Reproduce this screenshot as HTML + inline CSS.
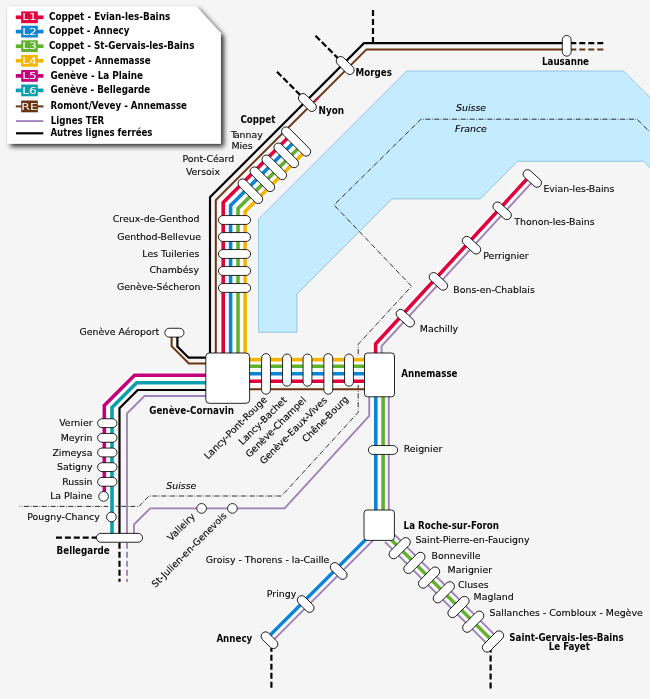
<!DOCTYPE html>
<html lang="fr"><head><meta charset="utf-8"><title>Léman Express</title>
<style>
html,body{margin:0;padding:0;background:#f5f5f5}
body{width:650px;height:699px;overflow:hidden}
svg{display:block}
text{font-family:"DejaVu Sans","Liberation Sans",sans-serif;font-size:9.4px;fill:#000;stroke:#000;stroke-width:0.12px}
.b{font-weight:bold;font-stretch:condensed;font-size:9.7px;fill:#000;stroke:none}
.lb{font-weight:bold;font-stretch:condensed;font-size:9.75px;fill:#000;stroke:none}
.i{font-style:italic;fill:#000}
.k{font-size:8.8px;fill:#fff;stroke:none}
.p{fill:#fff;stroke:#000;stroke-width:0.85}
</style></head><body>
<svg width="650" height="699" viewBox="0 0 650 699">
<defs><filter id="sh" x="-10%" y="-10%" width="125%" height="125%"><feGaussianBlur in="SourceAlpha" stdDeviation="2.4"/><feOffset dx="2.8" dy="2.8" result="o"/><feComponentTransfer><feFuncA type="linear" slope="0.8"/></feComponentTransfer><feMerge><feMergeNode/><feMergeNode in="SourceGraphic"/></feMerge></filter></defs>
<rect width="650" height="699" fill="#f5f5f5"/>
<polygon points="406.6,71 623.6,71 660,107.4 660,177.8 643.5,161.3 517.5,161.3 480.4,198.9 392,198.9 297,294 297,332.2 258.6,332.2 258.6,219" fill="#c5ebfe" stroke="#7fbdd8" stroke-width="0.8"/>
<polyline points="660,142 637,119.2 421,119.2 334,205 411.5,286.2 358.2,344.3 358.2,412.3 281.6,496 149,496 139,506.4 19.6,506.4" fill="none" stroke="#1a1a1a" stroke-width="0.9" stroke-dasharray="5.1,1.5,0.75,1.5" stroke-linejoin="miter" stroke-linecap="butt"/>
<polyline points="290.13,135.53 223.2,202.47 223.2,355" fill="none" stroke="#fff" stroke-width="7.4" stroke-linejoin="miter"/>
<polyline points="249,381.2 366,381.2" fill="none" stroke="#fff" stroke-width="7.4" stroke-linejoin="miter"/>
<polyline points="295.37,140.77 230.6,205.53 230.6,355" fill="none" stroke="#fff" stroke-width="7.4" stroke-linejoin="miter"/>
<polyline points="249,373.8 366,373.8" fill="none" stroke="#fff" stroke-width="7.4" stroke-linejoin="miter"/>
<polyline points="300.6,146 238,208.6 238,355" fill="none" stroke="#fff" stroke-width="7.4" stroke-linejoin="miter"/>
<polyline points="249,366.3 366,366.3" fill="none" stroke="#fff" stroke-width="7.4" stroke-linejoin="miter"/>
<polyline points="305.62,151.02 245.1,211.54 245.1,355" fill="none" stroke="#fff" stroke-width="7.4" stroke-linejoin="miter"/>
<polyline points="249,359.6 366,359.6" fill="none" stroke="#fff" stroke-width="7.4" stroke-linejoin="miter"/>
<polyline points="375.6,355 375.6,344 529.66,176.08" fill="none" stroke="#fff" stroke-width="7.4" stroke-linejoin="miter"/>
<polyline points="375.8,395 375.8,512" fill="none" stroke="#fff" stroke-width="7.4" stroke-linejoin="miter"/>
<polyline points="383.1,395 383.1,512" fill="none" stroke="#fff" stroke-width="7.4" stroke-linejoin="miter"/>
<polyline points="380,525.2 267.25,637.95" fill="none" stroke="#fff" stroke-width="7.4" stroke-linejoin="miter"/>
<polyline points="385,533.5 493,641.5" fill="none" stroke="#fff" stroke-width="7.4" stroke-linejoin="miter"/>
<polyline points="207,375.3 134.5,375.3 104.3,405.5 104.3,496" fill="none" stroke="#fff" stroke-width="7.4" stroke-linejoin="miter"/>
<polyline points="207,382.7 136.7,382.7 112,407.4 112,536" fill="none" stroke="#fff" stroke-width="7.4" stroke-linejoin="miter"/>
<polyline points="206,396 144.5,396 127,413.5 127,534" fill="none" stroke="#9e81b8" stroke-width="1.85" stroke-linejoin="miter" stroke-linecap="butt"/>
<polyline points="127,542.8 127,582" fill="none" stroke="#9e81b8" stroke-width="1.85" stroke-dasharray="6,3" stroke-linejoin="miter" stroke-linecap="butt"/>
<polyline points="369.2,395 369.2,415.8 284.6,508.3 150.2,508.3 134,524.5 134,534" fill="none" stroke="#9e81b8" stroke-width="1.85" stroke-linejoin="miter" stroke-linecap="butt"/>
<polyline points="381.6,355 381.6,346.19 534.01,180.07" fill="none" stroke="#9e81b8" stroke-width="1.85" stroke-linejoin="miter" stroke-linecap="butt"/>
<polyline points="388.8,395 388.8,512" fill="none" stroke="#9e81b8" stroke-width="1.85" stroke-linejoin="miter" stroke-linecap="butt"/>
<polyline points="380,533.4 271.35,642.05" fill="none" stroke="#9e81b8" stroke-width="1.85" stroke-linejoin="miter" stroke-linecap="butt"/>
<polyline points="385,541.84 488.83,645.67" fill="none" stroke="#9e81b8" stroke-width="1.85" stroke-linejoin="miter" stroke-linecap="butt"/>
<polyline points="385,525.16 497.17,637.33" fill="none" stroke="#9e81b8" stroke-width="1.85" stroke-linejoin="miter" stroke-linecap="butt"/>
<polyline points="566.7,43.2 364,43.2 210,197.2 210,355" fill="none" stroke="#000" stroke-width="2.2" stroke-linejoin="miter" stroke-linecap="butt"/>
<polyline points="603.3,43.2 569,43.2" fill="none" stroke="#000" stroke-width="2.2" stroke-dasharray="6,3" stroke-linejoin="miter" stroke-linecap="butt"/>
<polyline points="373,43 373,10" fill="none" stroke="#000" stroke-width="2.2" stroke-dasharray="6,3" stroke-linejoin="miter" stroke-linecap="butt"/>
<polyline points="315.5,35.8 339,59.3" fill="none" stroke="#000" stroke-width="2.2" stroke-dasharray="6.3,2.6" stroke-linejoin="miter" stroke-linecap="butt"/>
<polyline points="277,71.8 301,95.8" fill="none" stroke="#000" stroke-width="2.2" stroke-dasharray="6.3,2.6" stroke-linejoin="miter" stroke-linecap="butt"/>
<polyline points="177.4,334 177.4,346.5 188.6,357.7 207,357.7" fill="none" stroke="#000" stroke-width="2.2" stroke-linejoin="miter" stroke-linecap="butt"/>
<polyline points="206,390 137.7,390 119.5,408.2 119.5,535" fill="none" stroke="#000" stroke-width="2.2" stroke-linejoin="miter" stroke-linecap="butt"/>
<polyline points="119.5,542.8 119.5,581.8" fill="none" stroke="#000" stroke-width="2.2" stroke-dasharray="6,3" stroke-linejoin="miter" stroke-linecap="butt"/>
<polyline points="56,537.6 98,537.6" fill="none" stroke="#000" stroke-width="2.2" stroke-dasharray="6,2.9" stroke-linejoin="miter" stroke-linecap="butt"/>
<polyline points="271.4,687.8 271.4,648" fill="none" stroke="#000" stroke-width="2.2" stroke-dasharray="6,3" stroke-linejoin="miter" stroke-linecap="butt"/>
<polyline points="490.6,688.4 490.6,650" fill="none" stroke="#000" stroke-width="2.2" stroke-dasharray="6,3" stroke-linejoin="miter" stroke-linecap="butt"/>
<polyline points="566.7,49.4 366.5,49.4 215.8,200.1 215.8,355" fill="none" stroke="#6b3410" stroke-width="2" stroke-linejoin="miter" stroke-linecap="butt"/>
<polyline points="603.3,49.4 569,49.4" fill="none" stroke="#6b3410" stroke-width="2" stroke-dasharray="6,3" stroke-linejoin="miter" stroke-linecap="butt"/>
<polyline points="171.6,334 171.6,346.2 188.9,363.5 207,363.5" fill="none" stroke="#6b3410" stroke-width="2" stroke-linejoin="miter" stroke-linecap="butt"/>
<polyline points="249,389.2 366,389.2" fill="none" stroke="#6b3410" stroke-width="2" stroke-linejoin="miter" stroke-linecap="butt"/>
<polyline points="314.2,101.7 318.6,97.3" fill="none" stroke="#b5122f" stroke-width="2" stroke-linejoin="miter" stroke-linecap="butt"/>
<polyline points="290.13,135.53 223.2,202.47 223.2,355" fill="none" stroke="#e2003d" stroke-width="3.6" stroke-linejoin="miter" stroke-linecap="butt"/>
<polyline points="249,381.2 366,381.2" fill="none" stroke="#e2003d" stroke-width="3.6" stroke-linejoin="miter" stroke-linecap="butt"/>
<polyline points="295.37,140.77 230.6,205.53 230.6,355" fill="none" stroke="#0b86d4" stroke-width="3.6" stroke-linejoin="miter" stroke-linecap="butt"/>
<polyline points="249,373.8 366,373.8" fill="none" stroke="#0b86d4" stroke-width="3.6" stroke-linejoin="miter" stroke-linecap="butt"/>
<polyline points="300.6,146 238,208.6 238,355" fill="none" stroke="#63b22f" stroke-width="3.6" stroke-linejoin="miter" stroke-linecap="butt"/>
<polyline points="249,366.3 366,366.3" fill="none" stroke="#63b22f" stroke-width="3.6" stroke-linejoin="miter" stroke-linecap="butt"/>
<polyline points="305.62,151.02 245.1,211.54 245.1,355" fill="none" stroke="#f6b400" stroke-width="3.6" stroke-linejoin="miter" stroke-linecap="butt"/>
<polyline points="249,359.6 366,359.6" fill="none" stroke="#f6b400" stroke-width="3.6" stroke-linejoin="miter" stroke-linecap="butt"/>
<polyline points="375.6,355 375.6,344 529.66,176.08" fill="none" stroke="#e2003d" stroke-width="3.6" stroke-linejoin="miter" stroke-linecap="butt"/>
<polyline points="375.8,395 375.8,512" fill="none" stroke="#0b86d4" stroke-width="3.6" stroke-linejoin="miter" stroke-linecap="butt"/>
<polyline points="383.1,395 383.1,512" fill="none" stroke="#63b22f" stroke-width="3.6" stroke-linejoin="miter" stroke-linecap="butt"/>
<polyline points="380,525.2 267.25,637.95" fill="none" stroke="#0b86d4" stroke-width="3.6" stroke-linejoin="miter" stroke-linecap="butt"/>
<polyline points="385,533.5 493,641.5" fill="none" stroke="#63b22f" stroke-width="3.6" stroke-linejoin="miter" stroke-linecap="butt"/>
<polyline points="207,375.3 134.5,375.3 104.3,405.5 104.3,496" fill="none" stroke="#c4007a" stroke-width="3.6" stroke-linejoin="miter" stroke-linecap="butt"/>
<polyline points="207,382.7 136.7,382.7 112,407.4 112,536" fill="none" stroke="#0a9eae" stroke-width="3.6" stroke-linejoin="miter" stroke-linecap="butt"/>
<rect x="277.33" y="137.07" width="37.55" height="8.85" rx="4.42" ry="4.42" transform="rotate(45 296.1 141.5)" class="p"/>
<rect x="234.83" y="186.78" width="31.15" height="8.85" rx="4.42" ry="4.42" transform="rotate(45 250.4 191.2)" class="p"/>
<rect x="246.78" y="174.82" width="31.15" height="8.85" rx="4.42" ry="4.42" transform="rotate(45 262.35 179.25)" class="p"/>
<rect x="258.73" y="162.88" width="31.15" height="8.85" rx="4.42" ry="4.42" transform="rotate(45 274.3 167.3)" class="p"/>
<rect x="270.68" y="150.93" width="31.15" height="8.85" rx="4.42" ry="4.42" transform="rotate(45 286.25 155.35)" class="p"/>
<rect x="334.38" y="61.08" width="21.65" height="8.85" rx="4.42" ry="4.42" transform="rotate(45 345.2 65.5)" class="p"/>
<rect x="296.57" y="98.08" width="21.65" height="8.85" rx="4.42" ry="4.42" transform="rotate(45 307.4 102.5)" class="p"/>
<rect x="556.33" y="41.38" width="20.75" height="8.85" rx="4.42" ry="4.42" transform="rotate(90 566.7 45.8)" class="p"/>
<rect x="218.43" y="215.57" width="32.15" height="8.85" rx="4.42" ry="4.42" transform="rotate(0 234.5 220)" class="p"/>
<rect x="218.43" y="232.57" width="32.15" height="8.85" rx="4.42" ry="4.42" transform="rotate(0 234.5 237)" class="p"/>
<rect x="218.43" y="249.57" width="32.15" height="8.85" rx="4.42" ry="4.42" transform="rotate(0 234.5 254)" class="p"/>
<rect x="218.43" y="266.57" width="32.15" height="8.85" rx="4.42" ry="4.42" transform="rotate(0 234.5 271)" class="p"/>
<rect x="218.43" y="283.57" width="32.15" height="8.85" rx="4.42" ry="4.42" transform="rotate(0 234.5 288)" class="p"/>
<rect x="164.83" y="328.27" width="19.15" height="8.85" rx="4.42" ry="4.42" transform="rotate(0 174.4 332.7)" class="p"/>
<rect x="97.62" y="418.77" width="19.35" height="8.85" rx="4.42" ry="4.42" transform="rotate(0 107.3 423.2)" class="p"/>
<rect x="97.62" y="433.42" width="19.35" height="8.85" rx="4.42" ry="4.42" transform="rotate(0 107.3 437.85)" class="p"/>
<rect x="97.62" y="448.07" width="19.35" height="8.85" rx="4.42" ry="4.42" transform="rotate(0 107.3 452.5)" class="p"/>
<rect x="97.62" y="462.72" width="19.35" height="8.85" rx="4.42" ry="4.42" transform="rotate(0 107.3 467.15)" class="p"/>
<rect x="97.62" y="477.38" width="19.35" height="8.85" rx="4.42" ry="4.42" transform="rotate(0 107.3 481.8)" class="p"/>
<circle cx="103.6" cy="496.4" r="4.85" class="p"/>
<circle cx="111.4" cy="517" r="4.85" class="p"/>
<rect x="96.42" y="533.38" width="46.15" height="8.85" rx="4.42" ry="4.42" transform="rotate(0 119.5 537.8)" class="p"/>
<rect x="245.72" y="369.47" width="40.55" height="8.85" rx="4.42" ry="4.42" transform="rotate(90 266 373.9)" class="p"/>
<rect x="270.93" y="365.68" width="32.15" height="8.85" rx="4.42" ry="4.42" transform="rotate(90 287 370.1)" class="p"/>
<rect x="291.43" y="365.68" width="32.15" height="8.85" rx="4.42" ry="4.42" transform="rotate(90 307.5 370.1)" class="p"/>
<rect x="308.03" y="369.47" width="40.55" height="8.85" rx="4.42" ry="4.42" transform="rotate(90 328.3 373.9)" class="p"/>
<rect x="332.93" y="365.68" width="32.15" height="8.85" rx="4.42" ry="4.42" transform="rotate(90 349 370.1)" class="p"/>
<rect x="521.42" y="174.07" width="21.75" height="8.85" rx="4.42" ry="4.42" transform="rotate(42.53 532.3 178.5)" class="p"/>
<rect x="491.32" y="206.38" width="21.75" height="8.85" rx="4.42" ry="4.42" transform="rotate(42.53 502.2 210.8)" class="p"/>
<rect x="460.62" y="240.77" width="21.75" height="8.85" rx="4.42" ry="4.42" transform="rotate(42.53 471.5 245.2)" class="p"/>
<rect x="427.52" y="276.97" width="21.75" height="8.85" rx="4.42" ry="4.42" transform="rotate(42.53 438.4 281.4)" class="p"/>
<rect x="394.43" y="313.77" width="21.75" height="8.85" rx="4.42" ry="4.42" transform="rotate(42.53 405.3 318.2)" class="p"/>
<rect x="368.43" y="445.57" width="29.15" height="8.85" rx="4.42" ry="4.42" transform="rotate(0 383 450)" class="p"/>
<rect x="328.72" y="566.58" width="19.95" height="8.85" rx="4.42" ry="4.42" transform="rotate(45 338.7 571)" class="p"/>
<rect x="295.72" y="599.58" width="19.95" height="8.85" rx="4.42" ry="4.42" transform="rotate(45 305.7 604)" class="p"/>
<rect x="259.52" y="635.78" width="19.95" height="8.85" rx="4.42" ry="4.42" transform="rotate(45 269.5 640.2)" class="p"/>
<rect x="386.62" y="543.6" width="26.15" height="9.2" rx="4.6" ry="4.6" transform="rotate(-45 399.7 548.2)" class="p"/>
<rect x="401.32" y="558.3" width="26.15" height="9.2" rx="4.6" ry="4.6" transform="rotate(-45 414.4 562.9)" class="p"/>
<rect x="416.03" y="573" width="26.15" height="9.2" rx="4.6" ry="4.6" transform="rotate(-45 429.1 577.6)" class="p"/>
<rect x="430.73" y="587.7" width="26.15" height="9.2" rx="4.6" ry="4.6" transform="rotate(-45 443.8 592.3)" class="p"/>
<rect x="445.43" y="602.4" width="26.15" height="9.2" rx="4.6" ry="4.6" transform="rotate(-45 458.5 607)" class="p"/>
<rect x="460.12" y="617.1" width="26.15" height="9.2" rx="4.6" ry="4.6" transform="rotate(-45 473.2 621.7)" class="p"/>
<rect x="479.93" y="636.9" width="26.15" height="9.2" rx="4.6" ry="4.6" transform="rotate(-45 493 641.5)" class="p"/>
<circle cx="201.6" cy="508.4" r="4.85" class="p"/>
<circle cx="232.4" cy="508.4" r="4.85" class="p"/>
<rect x="205.8" y="353" width="43.8" height="50.3" rx="3.6" class="p"/>
<rect x="364.5" y="353" width="30" height="43.8" rx="3" class="p"/>
<rect x="364" y="510" width="30.4" height="30.4" rx="3" class="p"/>
<g opacity="0.999">
<text x="355.6" y="75.6" class="b">Morges</text>
<text x="318.5" y="113.6" class="b" textLength="25.6" lengthAdjust="spacingAndGlyphs">Nyon</text>
<text x="565.5" y="65" class="b" text-anchor="middle">Lausanne</text>
<text x="240.4" y="122.6" class="b">Coppet</text>
<text x="231" y="138" class="r">T<tspan dx="-1.3">annay</tspan></text>
<text x="231.4" y="149.4" class="r">Mies</text>
<text x="234.2" y="162" class="r" text-anchor="end">Pont-Céard</text>
<text x="220" y="174.8" class="r" text-anchor="end">Versoix</text>
<text x="199.4" y="222" class="r" text-anchor="end">Creux-de-Genthod</text>
<text x="201" y="240" class="r" text-anchor="end">Genthod-Bellevue</text>
<text x="199.4" y="257" class="r" text-anchor="end">Les Tuileries</text>
<text x="199" y="273" class="r" text-anchor="end">Chambésy</text>
<text x="200.4" y="290" class="r" text-anchor="end">Genève-Sécheron</text>
<text x="159.2" y="335.1" class="r" text-anchor="end">Genève Aéroport</text>
<text x="234" y="414" class="b" textLength="84.8" lengthAdjust="spacingAndGlyphs" text-anchor="end">Genève-Cornavin</text>
<text x="92.5" y="426.3" class="r" text-anchor="end">Vernier</text>
<text x="92.5" y="440.95" class="r" text-anchor="end">Meyrin</text>
<text x="92.5" y="455.6" class="r" text-anchor="end">Zimeysa</text>
<text x="92.5" y="470.25" class="r" text-anchor="end">Satigny</text>
<text x="92.5" y="484.9" class="r" text-anchor="end">Russin</text>
<text x="92.4" y="499.2" class="r" text-anchor="end">La Plaine</text>
<text x="99.8" y="519.8" class="r" text-anchor="end">Pougny-Chancy</text>
<text x="56.6" y="553.6" class="b">Bellegarde</text>
<text x="267.6" y="400.2" class="r" text-anchor="end" transform="rotate(-45 267.6 400.2)">Lancy-Pont-Rouge</text>
<text x="287.3" y="400.7" class="r" text-anchor="end" transform="rotate(-45 287.3 400.7)">Lancy-Bachet</text>
<text x="306.8" y="400.7" class="r" text-anchor="end" transform="rotate(-45 306.8 400.7)">Genève-Champel</text>
<text x="327.6" y="400.7" class="r" text-anchor="end" transform="rotate(-45 327.6 400.7)">Genève-Eaux-Vives</text>
<text x="349" y="399.8" class="r" text-anchor="end" transform="rotate(-45 349 399.8)">Chêne-Bourg</text>
<text x="195.6" y="517.1" class="r" text-anchor="end" transform="rotate(-45 195.6 517.1)">Valleiry</text>
<text x="227.3" y="516.2" class="r" text-anchor="end" transform="rotate(-45 227.3 516.2)">St-Julien-en-Genevois</text>
<text x="166.3" y="489.3" class="i">Suisse</text>
<text x="456" y="111" class="i">Suisse</text>
<text x="455" y="131.5" class="i">France</text>
<text x="543.4" y="192.4" class="r">Evian-les-Bains</text>
<text x="514.3" y="224.7" class="r">Thonon-les-Bains</text>
<text x="483.3" y="259.3" class="r">Perrignier</text>
<text x="453.3" y="293.3" class="r">Bons-en-Chablais</text>
<text x="419.8" y="331.8" class="r">Machilly</text>
<text x="401.2" y="377" class="b">Annemasse</text>
<text x="403.7" y="451.8" class="r">Reignier</text>
<text x="403.6" y="529" class="b">La Roche-sur-Foron</text>
<text x="415.4" y="543.2" class="r">Saint-Pierre-en-Faucigny</text>
<text x="431.6" y="558.6" class="r">Bonneville</text>
<text x="447.6" y="572.6" class="r">Marignier</text>
<text x="458" y="587.8" class="r">Cluses</text>
<text x="473.6" y="600.4" class="r">Magland</text>
<text x="489.6" y="616" class="r">Sallanches - Combloux - Megève</text>
<text x="509.3" y="640.6" class="b">Saint-Gervais-les-Bains</text>
<text x="569.3" y="650.2" class="b" text-anchor="middle">Le Fayet</text>
<text x="329.4" y="562.7" class="r" text-anchor="end">Groisy - Thorens - la-Caille</text>
<text x="296.2" y="596.7" class="r" text-anchor="end">Pringy</text>
<text x="252.3" y="642" class="b" text-anchor="end">Annecy</text>
</g>
<g opacity="0.999">
<polygon points="7.4,6.4 196.4,6.4 220.9,33.2 220.9,143.7 7.4,143.7" fill="#fff" filter="url(#sh)"/>
<polyline points="15.8,17.3 43.5,17.3" fill="none" stroke="#e2003d" stroke-width="3.7" stroke-linejoin="miter" stroke-linecap="butt"/>
<rect x="21.2" y="11.4" width="16.6" height="11.8" fill="#e2003d"/>
<text class="k" text-anchor="middle" transform="translate(29.5 20.4) scale(1.4 1)">L1</text>
<text x="48.9" y="20.1" class="lb" textLength="121.3" lengthAdjust="spacingAndGlyphs">Coppet - Evian-les-Bains</text>
<polyline points="15.8,31.6 43.5,31.6" fill="none" stroke="#0b86d4" stroke-width="3.7" stroke-linejoin="miter" stroke-linecap="butt"/>
<rect x="21.2" y="25.7" width="16.6" height="11.8" fill="#0b86d4"/>
<text class="k" text-anchor="middle" transform="translate(29.5 34.7) scale(1.4 1)">L2</text>
<text x="48.9" y="34.3" class="lb" textLength="80.5" lengthAdjust="spacingAndGlyphs">Coppet - Annecy</text>
<polyline points="15.8,46.2 43.5,46.2" fill="none" stroke="#63b22f" stroke-width="3.7" stroke-linejoin="miter" stroke-linecap="butt"/>
<rect x="21.2" y="40.3" width="16.6" height="11.8" fill="#63b22f"/>
<text class="k" text-anchor="middle" transform="translate(29.5 49.3) scale(1.4 1)">L3</text>
<text x="48.9" y="48.6" class="lb" textLength="145.5" lengthAdjust="spacingAndGlyphs">Coppet - St-Gervais-les-Bains</text>
<polyline points="15.8,60.8 43.5,60.8" fill="none" stroke="#f6b400" stroke-width="3.7" stroke-linejoin="miter" stroke-linecap="butt"/>
<rect x="21.2" y="54.9" width="16.6" height="11.8" fill="#f6b400"/>
<text class="k" text-anchor="middle" transform="translate(29.5 63.9) scale(1.4 1)">L4</text>
<text x="50.6" y="63.9" class="lb" textLength="100" lengthAdjust="spacingAndGlyphs">Coppet - Annemasse</text>
<polyline points="15.8,75.9 43.5,75.9" fill="none" stroke="#c4007a" stroke-width="3.7" stroke-linejoin="miter" stroke-linecap="butt"/>
<rect x="21.2" y="70" width="16.6" height="11.8" fill="#c4007a"/>
<text class="k" text-anchor="middle" transform="translate(29.5 79) scale(1.4 1)">L5</text>
<text x="50.6" y="79.3" class="lb" textLength="92.5" lengthAdjust="spacingAndGlyphs">Genève - La Plaine</text>
<polyline points="15.8,90.4 43.5,90.4" fill="none" stroke="#0a9eae" stroke-width="3.7" stroke-linejoin="miter" stroke-linecap="butt"/>
<rect x="21.2" y="84.5" width="16.6" height="11.8" fill="#0a9eae"/>
<text class="k" text-anchor="middle" transform="translate(29.5 93.5) scale(1.4 1)">L6</text>
<text x="50.6" y="93.3" class="lb" textLength="99.7" lengthAdjust="spacingAndGlyphs">Genève - Bellegarde</text>
<polyline points="15.8,106.4 43.5,106.4" fill="none" stroke="#6b3410" stroke-width="2" stroke-linejoin="miter" stroke-linecap="butt"/>
<rect x="21.2" y="100.5" width="16.6" height="11.8" fill="#6b3410"/>
<text class="k" text-anchor="middle" transform="translate(29.5 109.5) scale(1.4 1)">RE</text>
<text x="50.6" y="109.4" class="lb" textLength="136.4" lengthAdjust="spacingAndGlyphs">Romont/Vevey - Annemasse</text>
<polyline points="16,121.1 43.3,121.1" fill="none" stroke="#9e81b8" stroke-width="1.85" stroke-linejoin="miter" stroke-linecap="butt"/>
<text x="50.8" y="123.7" class="lb" textLength="53.5" lengthAdjust="spacingAndGlyphs">Lignes TER</text>
<polyline points="16,133.3 43.3,133.3" fill="none" stroke="#000" stroke-width="2.2" stroke-linejoin="miter" stroke-linecap="butt"/>
<text x="50.4" y="135.8" class="lb" textLength="102.1" lengthAdjust="spacingAndGlyphs">Autres lignes ferrées</text>
</g>
</svg>
</body></html>
